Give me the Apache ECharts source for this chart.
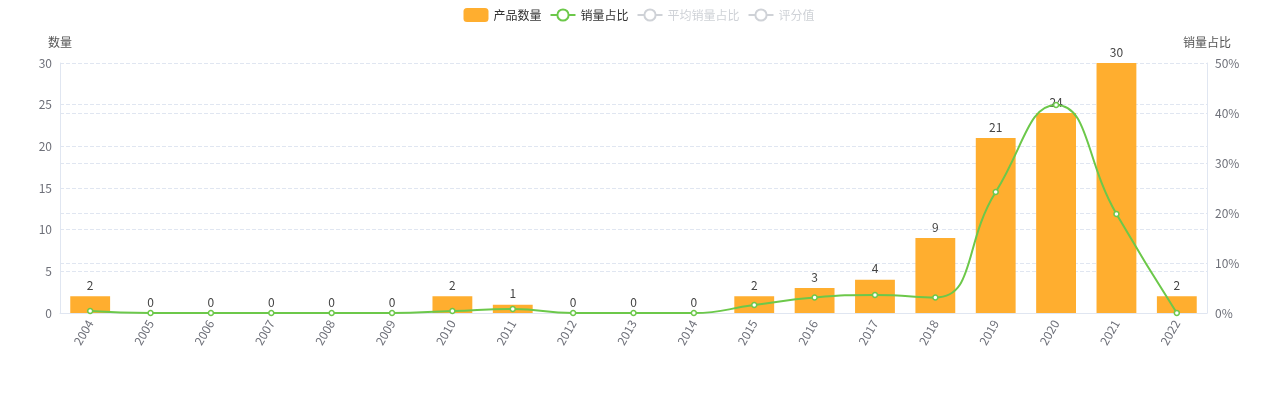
<!DOCTYPE html>
<html>
<head>
<meta charset="utf-8">
<script src="https://cdn.jsdelivr.net/npm/echarts@6/dist/echarts.min.js"></script>
<style>
  html, body { margin: 0; padding: 0; background: #fff; }
  #chart { width: 1278px; height: 400px; }
</style>
</head>
<body>
<div id="chart"></div>
<script>
var years = ['2004', '2005', '2006', '2007', '2008', '2009', '2010', '2011', '2012', '2013',
  '2014', '2015', '2016', '2017', '2018', '2019', '2020', '2021', '2022'];
var counts = [2, 0, 0, 0, 0, 0, 2, 1, 0, 0, 0, 2, 3, 4, 9, 21, 24, 30, 2];
var salesShare = [0.4, 0, 0, 0, 0, 0, 0.4, 0.8, 0, 0, 0, 1.6, 3.1, 3.6, 3.1, 24.2, 41.6, 19.8, 0];

var font = '"Noto Sans CJK SC", "Noto Sans", sans-serif';
var labelColor = '#6e7079';

echarts.init(document.getElementById('chart'), null, { renderer: 'canvas' }).setOption({
  textStyle: { fontFamily: font },
  legend: {
    top: 3,
    itemWidth: 25,
    itemHeight: 14,
    textStyle: { fontFamily: font, fontSize: 12, color: '#333' },
    data: [
      { name: '产品数量', icon: 'roundRect' },
      '销量占比', '平均销量占比', '评分值'
    ],
    selected: { '平均销量占比': false, '评分值': false }
  },
  grid: { left: 60, right: 71, top: 63, bottom: 87 },
  xAxis: {
    type: 'category',
    data: years,
    axisLine: { lineStyle: { color: '#e0e6f1' } },
    axisTick: { lineStyle: { color: '#e0e6f1' } },
    axisLabel: { rotate: 60, color: labelColor, fontSize: 12, margin: 8 }
  },
  yAxis: [{
    type: 'value',
    name: '数量',
    min: 0,
    max: 30,
    interval: 5,
    nameTextStyle: { color: '#555', fontSize: 12 },
    axisLine: { show: true, lineStyle: { color: '#e0e6f1' } },
    axisLabel: { color: labelColor, fontSize: 12 },
    splitLine: { lineStyle: { type: 'dashed', color: '#e0e6f1' } }
  }, {
    type: 'value',
    name: '销量占比',
    min: 0,
    max: 50,
    interval: 10,
    nameTextStyle: { color: '#555', fontSize: 12 },
    axisLine: { show: true, lineStyle: { color: '#e0e6f1' } },
    axisLabel: { color: labelColor, fontSize: 12, formatter: '{value}%' },
    splitLine: { lineStyle: { type: 'dashed', color: '#e0e6f1' } }
  }],
  series: [{
    name: '产品数量',
    type: 'bar',
    barWidth: '66%',
    itemStyle: { color: '#ffae2f' },
    label: { show: true, position: 'top', color: '#444', fontSize: 12 },
    data: counts
  }, {
    name: '销量占比',
    type: 'line',
    yAxisIndex: 1,
    smooth: true,
    symbol: 'circle',
    symbolSize: 5,
    itemStyle: { color: '#fff', borderColor: '#6cc84a', borderWidth: 1.5 },
    lineStyle: { color: '#6cc84a', width: 2 },
    data: salesShare
  }, {
    name: '平均销量占比',
    type: 'line',
    yAxisIndex: 1,
    data: []
  }, {
    name: '评分值',
    type: 'line',
    data: []
  }]
});
</script>
</body>
</html>
